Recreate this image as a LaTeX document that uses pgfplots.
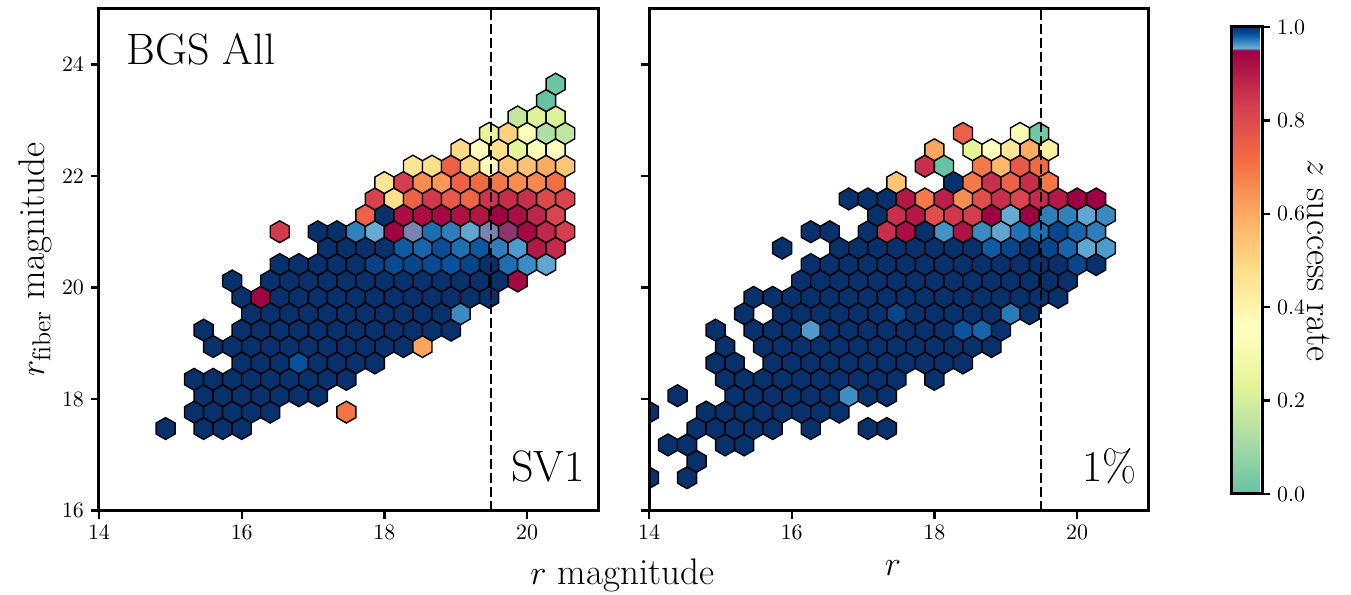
\documentclass[border=0pt]{standalone}
\usepackage{fontspec}
\usepackage{pgfplots}
\pgfplotsset{compat=1.18}

\pgfdeclareplotmark{hexa}{%
  \pgfpathmoveto{\pgfqpoint{0pt}{5.466pt}}%
  \pgfpathlineto{\pgfqpoint{-4.757pt}{2.733pt}}%
  \pgfpathlineto{\pgfqpoint{-4.757pt}{-2.733pt}}%
  \pgfpathlineto{\pgfqpoint{0pt}{-5.466pt}}%
  \pgfpathlineto{\pgfqpoint{4.757pt}{-2.733pt}}%
  \pgfpathlineto{\pgfqpoint{4.757pt}{2.733pt}}%
  \pgfpathclose
  \pgfusepathqfillstroke}

\pgfplotsset{
  colormap={hexmap}{
    rgb255(0pt)=(102,194,165)
    rgb255(119pt)=(171,221,164)
    rgb255(237.5pt)=(230,245,152)
    rgb255(356pt)=(255,255,191)
    rgb255(475pt)=(254,224,139)
    rgb255(594pt)=(253,174,97)
    rgb255(712.5pt)=(244,109,67)
    rgb255(831pt)=(213,62,79)
    rgb255(950pt)=(158,1,66)
    rgb255(955pt)=(107,174,214)
    rgb255(965pt)=(66,146,198)
    rgb255(975pt)=(33,113,181)
    rgb255(985pt)=(8,81,156)
    rgb255(1000pt)=(8,48,107)
  },
  panel/.style={
    scale only axis, width=249.75pt, height=250.875pt,
    xmin=14, xmax=21, ymin=16, ymax=25,
    xtick={14,16,18,20}, ytick={16,18,20,22,24},
    xtick pos=bottom, ytick pos=left,
    tick align=outside, major tick length=4pt,
    every tick/.style={black, line width=1.2pt},
    axis line style={line width=1.5pt},
    tick label style={font=\fontsize{10.5}{12}\selectfont},
    point meta min=0, point meta max=1,
    clip marker paths=true,
    axis on top,
  },
  hexes/.style={scatter, only marks, mark=hexa, point meta=explicit,
    scatter/use mapped color={draw=black, fill=mapped color},
    mark options={line width=0.7pt}},
  cut/.style={black, line width=1pt, dash pattern=on 5pt off 2pt, forget plot},
}

\pgfplotstableread{
x y v
14.9333 17.4706 1
15.4667 17.4706 1
15.7333 17.4706 1
16.0000 17.4706 1
15.3333 17.7647 1
15.6000 17.7647 1
15.8667 17.7647 1
16.1333 17.7647 1
16.4000 17.7647 1
17.4667 17.7647 0.70
15.4667 18.0588 1
15.7333 18.0588 1
16.0000 18.0588 1
16.2667 18.0588 1
16.5333 18.0588 1
16.8000 18.0588 1
17.0667 18.0588 1
15.3333 18.3529 1
15.6000 18.3529 1
15.8667 18.3529 1
16.1333 18.3529 1
16.4000 18.3529 1
16.6667 18.3529 1
16.9333 18.3529 1
17.2000 18.3529 1
17.4667 18.3529 1
16.0000 18.6471 1
16.2667 18.6471 1
16.5333 18.6471 1
16.8000 18.6471 0.985
17.0667 18.6471 1
17.3333 18.6471 1
17.6000 18.6471 1
17.8667 18.6471 1
15.6000 18.9412 1
15.8667 18.9412 1
16.1333 18.9412 1
16.4000 18.9412 1
16.6667 18.9412 1
16.9333 18.9412 1
17.2000 18.9412 1
17.4667 18.9412 1
17.7333 18.9412 1
18.0000 18.9412 1
18.2667 18.9412 1
18.5333 18.9412 0.61
15.4667 19.2353 1
16.0000 19.2353 1
16.2667 19.2353 1
16.5333 19.2353 1
16.8000 19.2353 1
17.0667 19.2353 1
17.3333 19.2353 1
17.6000 19.2353 1
17.8667 19.2353 1
18.1333 19.2353 1
18.4000 19.2353 1
18.6667 19.2353 1
18.9333 19.2353 1
16.1333 19.5294 1
16.4000 19.5294 1
16.6667 19.5294 1
16.9333 19.5294 1
17.2000 19.5294 1
17.4667 19.5294 1
17.7333 19.5294 1
18.0000 19.5294 1
18.2667 19.5294 1
18.5333 19.5294 1
18.8000 19.5294 1
19.0667 19.5294 0.967
16.0000 19.8235 1
16.2667 19.8235 0.945
16.5333 19.8235 1
16.8000 19.8235 1
17.0667 19.8235 1
17.3333 19.8235 1
17.6000 19.8235 1
17.8667 19.8235 1
18.1333 19.8235 1
18.4000 19.8235 1
18.6667 19.8235 1
18.9333 19.8235 1
19.2000 19.8235 1
19.4667 19.8235 1
15.8667 20.1176 1
16.4000 20.1176 1
16.6667 20.1176 1
16.9333 20.1176 1
17.2000 20.1176 1
17.4667 20.1176 1
17.7333 20.1176 1
18.0000 20.1176 1
18.2667 20.1176 1
18.5333 20.1176 1
18.8000 20.1176 1
19.0667 20.1176 1
19.3333 20.1176 1
19.6000 20.1176 1
19.8667 20.1176 0.935
16.5333 20.4118 1
16.8000 20.4118 1
17.0667 20.4118 1
17.3333 20.4118 1
17.6000 20.4118 1
17.8667 20.4118 0.992
18.1333 20.4118 0.988
18.4000 20.4118 0.99
18.6667 20.4118 0.988
18.9333 20.4118 0.985
19.2000 20.4118 0.991
19.4667 20.4118 1
19.7333 20.4118 0.976
20.0000 20.4118 0.967
20.2667 20.4118 0.958
17.2000 20.7059 1
17.4667 20.7059 1
17.7333 20.7059 1
18.0000 20.7059 1
18.2667 20.7059 0.982
18.5333 20.7059 0.979
18.8000 20.7059 0.987
19.0667 20.7059 0.976
19.3333 20.7059 0.983
19.6000 20.7059 0.971
19.8667 20.7059 0.962
20.1333 20.7059 0.905
20.4000 20.7059 0.87
16.5333 21.0000 0.835
17.0667 21.0000 1
17.3333 21.0000 1
17.6000 21.0000 0.97
17.8667 21.0000 0.956
18.1333 21.0000 0.947
18.4000 21.0000 0.9538
18.6667 21.0000 0.976
18.9333 21.0000 0.971
19.2000 21.0000 0.958
19.4667 21.0000 0.9538
19.7333 21.0000 0.9515
20.0000 21.0000 0.935
20.2667 21.0000 0.875
20.5333 21.0000 0.83
17.7333 21.2941 0.74
18.0000 21.2941 1
18.2667 21.2941 0.925
18.5333 21.2941 0.925
18.8000 21.2941 0.935
19.0667 21.2941 0.92
19.3333 21.2941 0.91
19.6000 21.2941 0.948
19.8667 21.2941 0.925
20.1333 21.2941 0.88
20.4000 21.2941 0.815
17.8667 21.5882 0.82
18.1333 21.5882 0.475
18.4000 21.5882 0.74
18.6667 21.5882 0.84
18.9333 21.5882 0.76
19.2000 21.5882 0.73
19.4667 21.5882 0.85
19.7333 21.5882 0.865
20.0000 21.5882 0.86
20.2667 21.5882 0.80
20.5333 21.5882 0.815
18.0000 21.8824 0.45
18.2667 21.8824 0.83
18.5333 21.8824 0.655
18.8000 21.8824 0.635
19.0667 21.8824 0.74
19.3333 21.8824 0.72
19.6000 21.8824 0.695
19.8667 21.8824 0.655
20.1333 21.8824 0.665
20.4000 21.8824 0.71
18.4000 22.1765 0.45
18.6667 22.1765 0.475
18.9333 22.1765 0.745
19.2000 22.1765 0.50
19.4667 22.1765 0.37
19.7333 22.1765 0.54
20.0000 22.1765 0.545
20.2667 22.1765 0.60
20.5333 22.1765 0.54
19.0667 22.4706 0.49
19.3333 22.4706 0.36
19.6000 22.4706 0.47
19.8667 22.4706 0.24
20.1333 22.4706 0.33
20.4000 22.4706 0.34
19.4667 22.7647 0.24
19.7333 22.7647 0.51
20.0000 22.7647 0.34
20.2667 22.7647 0.13
20.5333 22.7647 0.16
19.8667 23.0588 0.17
20.1333 23.0588 0.22
20.4000 23.0588 0.22
20.2667 23.3529 0.0
20.4000 23.6471 0.01
}\svone

\pgfplotstableread{
x y v
14.0000 16.5882 1
14.5333 16.5882 1
14.6667 16.8824 1
14.2667 17.1765 1
14.5333 17.1765 1
15.0667 17.1765 1
15.3333 17.1765 1
14.6667 17.4706 1
14.9333 17.4706 1
15.2000 17.4706 1
15.4667 17.4706 1
15.7333 17.4706 1
16.2667 17.4706 1
17.0667 17.4706 1
17.3333 17.4706 1
14.0000 17.7647 1
14.8000 17.7647 1
15.0667 17.7647 1
15.3333 17.7647 1
15.6000 17.7647 1
15.8667 17.7647 1
16.1333 17.7647 1
16.4000 17.7647 1
16.6667 17.7647 1
14.4000 18.0588 1
15.2000 18.0588 1
15.4667 18.0588 1
15.7333 18.0588 1
16.0000 18.0588 1
16.2667 18.0588 1
16.5333 18.0588 1
16.8000 18.0588 0.966
17.0667 18.0588 1
17.3333 18.0588 1
15.0667 18.3529 1
15.3333 18.3529 1
15.6000 18.3529 1
15.8667 18.3529 1
16.1333 18.3529 1
16.4000 18.3529 1
16.6667 18.3529 1
16.9333 18.3529 1
17.2000 18.3529 1
17.4667 18.3529 1
18.0000 18.3529 1
14.9333 18.6471 1
15.2000 18.6471 1
15.7333 18.6471 1
16.0000 18.6471 1
16.2667 18.6471 1
16.5333 18.6471 1
16.8000 18.6471 1
17.0667 18.6471 1
17.3333 18.6471 1
17.6000 18.6471 1
17.8667 18.6471 1
18.1333 18.6471 1
18.4000 18.6471 1
15.0667 18.9412 1
15.6000 18.9412 1
15.8667 18.9412 1
16.1333 18.9412 1
16.4000 18.9412 1
16.6667 18.9412 1
16.9333 18.9412 1
17.2000 18.9412 1
17.4667 18.9412 1
17.7333 18.9412 1
18.0000 18.9412 1
18.2667 18.9412 1
18.5333 18.9412 1
18.8000 18.9412 1
14.9333 19.2353 1
15.4667 19.2353 1
15.7333 19.2353 1
16.0000 19.2353 1
16.2667 19.2353 0.962
16.5333 19.2353 1
16.8000 19.2353 1
17.0667 19.2353 1
17.3333 19.2353 1
17.6000 19.2353 1
17.8667 19.2353 1
18.1333 19.2353 1
18.4000 19.2353 0.984
18.6667 19.2353 0.979
18.9333 19.2353 1
15.3333 19.5294 1
15.8667 19.5294 1
16.1333 19.5294 1
16.4000 19.5294 1
16.6667 19.5294 1
16.9333 19.5294 1
17.2000 19.5294 1
17.4667 19.5294 0.991
17.7333 19.5294 1
18.0000 19.5294 1
18.2667 19.5294 1
18.5333 19.5294 1
18.8000 19.5294 1
19.0667 19.5294 0.972
19.3333 19.5294 1
15.4667 19.8235 1
15.7333 19.8235 1
16.0000 19.8235 1
16.2667 19.8235 1
16.5333 19.8235 1
16.8000 19.8235 1
17.0667 19.8235 1
17.3333 19.8235 1
17.6000 19.8235 1
17.8667 19.8235 1
18.1333 19.8235 1
18.4000 19.8235 1
18.6667 19.8235 1
18.9333 19.8235 1
19.2000 19.8235 1
19.4667 19.8235 1
19.7333 19.8235 1
16.1333 20.1176 1
16.4000 20.1176 1
16.6667 20.1176 1
16.9333 20.1176 1
17.2000 20.1176 1
17.4667 20.1176 1
17.7333 20.1176 1
18.0000 20.1176 1
18.2667 20.1176 1
18.5333 20.1176 1
18.8000 20.1176 1
19.0667 20.1176 1
19.3333 20.1176 1
19.6000 20.1176 1
19.8667 20.1176 1
16.2667 20.4118 1
16.5333 20.4118 1
16.8000 20.4118 1
17.0667 20.4118 1
17.3333 20.4118 1
17.6000 20.4118 1
17.8667 20.4118 1
18.1333 20.4118 1
18.4000 20.4118 1
18.6667 20.4118 1
18.9333 20.4118 1
19.2000 20.4118 1
19.4667 20.4118 1
19.7333 20.4118 1
20.0000 20.4118 0.99
20.2667 20.4118 1
15.8667 20.7059 1
16.6667 20.7059 1
16.9333 20.7059 1
17.2000 20.7059 1
17.4667 20.7059 1
17.7333 20.7059 1
18.0000 20.7059 1
18.2667 20.7059 1
18.5333 20.7059 1
18.8000 20.7059 0.982
19.0667 20.7059 0.99
19.3333 20.7059 1
19.6000 20.7059 0.99
19.8667 20.7059 0.979
20.1333 20.7059 0.958
20.4000 20.7059 0.962
16.2667 21.0000 1
16.5333 21.0000 1
17.0667 21.0000 1
17.3333 21.0000 0.86
17.6000 21.0000 0.925
17.8667 21.0000 1
18.1333 21.0000 0.965
18.4000 21.0000 0.915
18.6667 21.0000 0.967
18.9333 21.0000 0.958
19.2000 21.0000 0.975
19.4667 21.0000 0.976
19.7333 21.0000 0.99
20.0000 21.0000 0.979
20.2667 21.0000 0.971
17.2000 21.2941 1
17.4667 21.2941 0.86
17.7333 21.2941 0.905
18.0000 21.2941 0.79
18.2667 21.2941 0.845
18.5333 21.2941 0.83
18.8000 21.2941 0.948
19.0667 21.2941 0.956
19.3333 21.2941 0.948
19.6000 21.2941 0.971
19.8667 21.2941 0.97
20.1333 21.2941 0.958
20.4000 21.2941 0.967
16.8000 21.5882 1
17.0667 21.5882 1
17.3333 21.5882 1
17.6000 21.5882 0.905
17.8667 21.5882 0.69
18.1333 21.5882 0.89
18.4000 21.5882 0.655
18.6667 21.5882 0.79
18.9333 21.5882 0.86
19.2000 21.5882 0.815
19.4667 21.5882 0.87
19.7333 21.5882 0.905
20.0000 21.5882 0.95
20.2667 21.5882 0.948
17.4667 21.8824 0.54
18.2667 21.8824 1
18.5333 21.8824 0.69
18.8000 21.8824 0.86
19.0667 21.8824 0.74
19.3333 21.8824 0.865
19.6000 21.8824 0.695
17.8667 22.1765 0.86
18.1333 22.1765 0.0
18.6667 22.1765 0.69
18.9333 22.1765 0.57
19.2000 22.1765 0.76
19.4667 22.1765 0.72
18.0000 22.4706 0.61
18.5333 22.4706 0.24
18.8000 22.4706 0.355
19.0667 22.4706 0.45
19.3333 22.4706 0.60
19.6000 22.4706 0.42
18.4000 22.7647 0.74
19.2000 22.7647 0.32
19.4667 22.7647 0.02
}\onepct

\begin{document}
\begin{tikzpicture}
\path[use as bounding box] (-49.5pt,-42.25pt) rectangle (626pt,255.25pt);

\begin{axis}[panel, at={(0pt,0pt)}, anchor=south west]
\addplot[hexes] table[x=x, y=y, meta=v] {\svone};
\addplot[cut] coordinates {(19.5,16) (19.5,25)};
\end{axis}

\begin{axis}[panel, at={(275pt,0pt)}, anchor=south west, yticklabels={},
  colorbar,
  colorbar style={
    at={(parent axis.south east)}, anchor=south west,
    xshift=32.75pt, yshift=8.25pt,
    scale only axis, width=15.5pt, height=233.5pt,
    ytick={0,0.2,0.4,0.6,0.8,1},
    ytick pos=right,
    yticklabel={\pgfmathprintnumber[fixed,fixed zerofill,precision=1]{\tick}},
    tick align=outside, major tick length=4pt,
    every tick/.style={black, line width=1.2pt},
    axis line style={line width=1.5pt},
    yticklabel style={font=\fontsize{10.5}{12}\selectfont},
  }]
\addplot[hexes] table[x=x, y=y, meta=v] {\onepct};
\addplot[cut] coordinates {(19.5,16) (19.5,25)};
\end{axis}

\node[anchor=base west, inner sep=0pt, font=\fontsize{22}{26}\selectfont] at (13.5pt,222.75pt) {BGS All};
\node[anchor=base east, inner sep=0pt, font=\fontsize{22}{26}\selectfont] at (243pt,14.25pt) {SV1};
\node[anchor=base east, inner sep=0pt, font=\fontsize{22}{26}\selectfont] at (519pt,14.25pt) {1\%};
\node[rotate=90, inner sep=0pt, font=\fontsize{18.5}{22}\selectfont] at (-32pt,125.45pt) {$r_{\rm fiber}$ magnitude};
\node[anchor=base west, inner sep=0pt, font=\fontsize{18.5}{22}\selectfont] at (215.5pt,-37.25pt) {$r$ magnitude};
\node[anchor=base, inner sep=0pt, font=\fontsize{18.5}{22}\selectfont] at (397pt,-32.5pt) {$r$};
\node[rotate=-90, inner sep=0pt, font=\fontsize{18.5}{22}\selectfont] at (610pt,125pt) {$z$ success rate};
\end{tikzpicture}
\end{document}
